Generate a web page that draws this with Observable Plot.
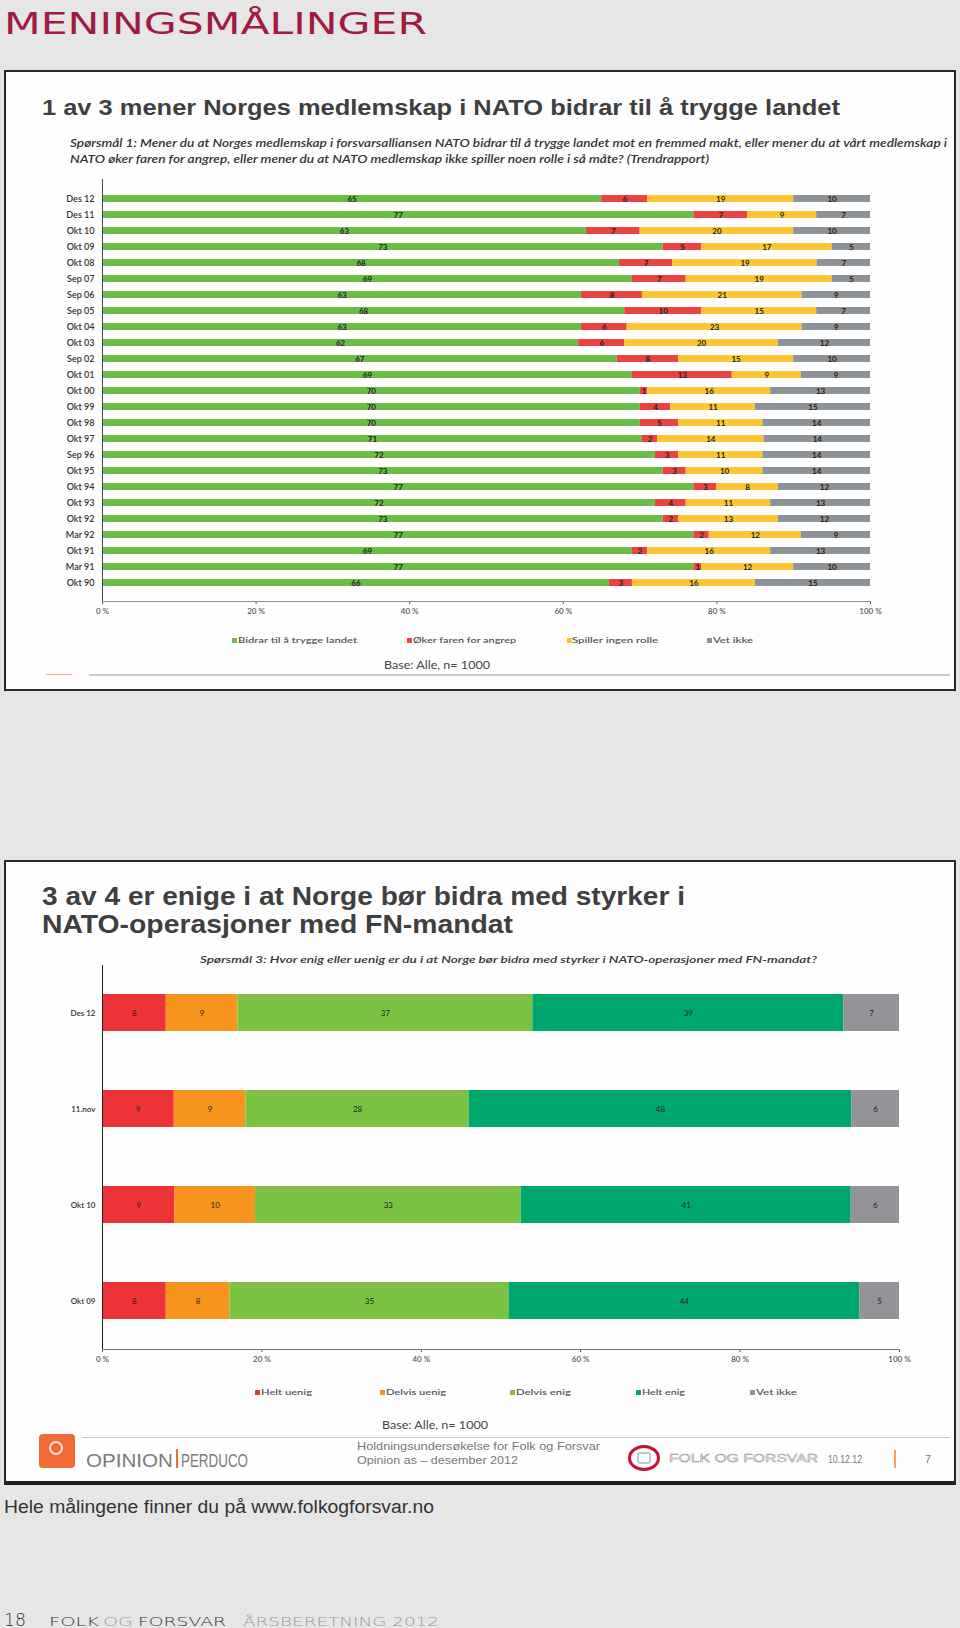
<!DOCTYPE html>
<html>
<head>
<meta charset="utf-8">
<script src="https://cdn.jsdelivr.net/npm/d3@7"></script>
<script src="https://cdn.jsdelivr.net/npm/@observablehq/plot@0.6"></script>
<style>
  html, body { margin: 0; padding: 0; }
  body { width: 960px; height: 1628px; background: #e6e6e6; overflow: hidden; }
  #page { position: relative; width: 960px; height: 1628px; }
  .abs { position: absolute; }
</style>
</head>
<body>
<div id="page"></div>
<script>
// ---------- DATA ----------
const dates1 = ["Des 12","Des 11","Okt 10","Okt 09","Okt 08","Sep 07","Sep 06","Sep 05","Okt 04","Okt 03","Sep 02","Okt 01","Okt 00","Okt 99","Okt 98","Okt 97","Sep 96","Okt 95","Okt 94","Okt 93","Okt 92","Mar 92","Okt 91","Mar 91","Okt 90"];
const bidrar  = [65,77,63,73,68,69,63,68,63,62,67,69,70,70,70,71,72,73,77,72,73,77,69,77,66];
const oker    = [6,7,7,5,7,7,8,10,6,6,8,13,1,4,5,2,3,3,3,4,2,2,2,1,3];
const spiller = [19,9,20,17,19,19,21,15,23,20,15,9,16,11,11,14,11,10,8,11,13,12,16,12,16];
const vetIkke1 = [10,7,10,5,7,5,9,7,9,12,10,9,13,15,14,14,14,14,12,13,12,9,13,10,15];
const cats1 = ["Bidrar til å trygge landet","Øker faren for angrep","Spiller ingen rolle","Vet ikke"];
const colors1 = ["#6cbd45","#ec4242","#fdc632","#8e9398"];

const dates2 = ["Des 12","11.nov","Okt 10","Okt 09"];
const heltUenig   = [8,9,9,8];
const delvisUenig = [9,9,10,8];
const delvisEnig  = [37,28,33,35];
const heltEnig    = [39,48,41,44];
const vetIkke2    = [7,6,6,5];
const cats2 = ["Helt uenig","Delvis uenig","Delvis enig","Helt enig","Vet ikke"];
const colors2 = ["#ec3338","#f7941d","#7cc242","#00a76d","#929497"];

const xTicks = [0, 0.2, 0.4, 0.6, 0.8, 1];
const pct = d => Math.round(d * 100) + " %";

// ---------- TABLES ----------
const series1 = [bidrar, oker, spiller, vetIkke1];
const rows1 = [];
dates1.forEach((d, i) => cats1.forEach((c, j) => rows1.push({date: d, cat: c, value: series1[j][i]})));
const series2 = [heltUenig, delvisUenig, delvisEnig, heltEnig, vetIkke2];
const rows2 = [];
dates2.forEach((d, i) => cats2.forEach((c, j) => rows2.push({date: d, cat: c, value: series2[j][i]})));

// ---------- HELPERS ----------
const page = document.getElementById("page");
const NS = "http://www.w3.org/2000/svg";
function fitText(x, baseline, w, size, text, o = {}) {
  const svg = document.createElementNS(NS, "svg");
  svg.setAttribute("width", w + 6);
  svg.setAttribute("height", size * 1.6);
  svg.style.position = "absolute";
  svg.style.left = x + "px";
  svg.style.top = (baseline - size * 1.2) + "px";
  svg.style.overflow = "visible";
  const t = document.createElementNS(NS, "text");
  t.setAttribute("x", 0);
  t.setAttribute("y", size * 1.2);
  t.setAttribute("textLength", w);
  t.setAttribute("lengthAdjust", "spacingAndGlyphs");
  t.setAttribute("font-size", size);
  t.setAttribute("font-family", o.family || "'Liberation Sans', Arial, sans-serif");
  t.setAttribute("font-weight", o.weight || "normal");
  if (o.italic) t.setAttribute("font-style", "italic");
  t.setAttribute("fill", o.color || "#333");
  if (o.stroke) { t.setAttribute("stroke", o.stroke); t.setAttribute("stroke-width", o.strokeWidth || 0.6); }
  t.textContent = text;
  svg.appendChild(t);
  page.appendChild(svg);
  return svg;
}
function box(x, y, w, h, css) {
  const d = document.createElement("div");
  d.className = "abs";
  d.style.left = x + "px"; d.style.top = y + "px";
  d.style.width = w + "px"; d.style.height = h + "px";
  Object.assign(d.style, css || {});
  page.appendChild(d);
  return d;
}
function place(node, x, y) {
  node.style.position = "absolute";
  node.style.left = x + "px";
  node.style.top = y + "px";
  page.appendChild(node);
}

// ---------- PAGE HEADER ----------
fitText(4, 34, 423, 30, "MENINGSMÅLINGER", {color: "#a01a42", family: "'DejaVu Sans', sans-serif", weight: "normal"});

// ---------- PANEL 1 ----------
box(4, 70, 952, 621, {background: "#fefefe", border: "2px solid #2a2a2a", boxSizing: "border-box"});
fitText(42, 115, 798, 22, "1 av 3 mener Norges medlemskap i NATO bidrar til å trygge landet", {weight: "bold", color: "#3f3f3f"});
fitText(70, 147, 877, 11, "Spørsmål 1: Mener du at Norges medlemskap i forsvarsalliansen NATO bidrar til å trygge landet mot en fremmed makt, eller mener du at vårt medlemskap i", {italic: true, weight: 600, color: "#333", family: "Lato, 'Open Sans', sans-serif"});
fitText(70, 163, 639, 11, "NATO øker faren for angrep, eller mener du at NATO medlemskap ikke spiller noen rolle i så måte? (Trendrapport)", {italic: true, weight: 600, color: "#333", family: "Lato, 'Open Sans', sans-serif"});

const chart1 = Plot.plot({
  width: 940, height: 457,
  marginLeft: 94, marginRight: 78, marginTop: 10, marginBottom: 25,
  x: {domain: [0, 1]},
  y: {domain: dates1, paddingInner: 0.58, paddingOuter: 0.3},
  color: {domain: cats1, range: colors1},
  style: {fontFamily: "Lato, 'Open Sans', sans-serif", background: "transparent", color: "#333"},
  marks: [
    Plot.barX(rows1, Plot.stackX({x: "value", y: "date", fill: "cat", offset: "normalize"})),
    Plot.text(rows1, Plot.stackX({x: "value", y: "date", z: "cat", offset: "normalize", text: d => String(d.value), fontSize: 8, fontWeight: "bold", fill: "#1e1e1e"})),
    Plot.axisX({ticks: xTicks, tickFormat: pct, tickSize: 3, tickPadding: 4, fontSize: 8, fontWeight: 600, color: "#555", label: null}),
    Plot.axisY({tickSize: 0, tickPadding: 8, fontSize: 9, fontWeight: 600, color: "#333", label: null}),
    Plot.frame({anchor: "left", stroke: "#444"}),
    Plot.frame({anchor: "bottom", stroke: "#8a8a8a"})
  ]
});
place(chart1, 8, 169);

// legend 1
const leg1 = [[232, 238, 119], [407, 413, 103], [567, 572, 86], [707, 713, 40]];
cats1.forEach((c, i) => {
  const [sx, tx, tw] = leg1[i];
  box(sx, 638, 5, 5, {background: colors1[i]});
  fitText(tx, 643, tw, 8, c, {color: "#555", weight: 600, family: "Lato, 'Open Sans', sans-serif"});
});
fitText(384, 669, 106, 11, "Base: Alle, n= 1000", {color: "#444", family: "Lato, 'Open Sans', sans-serif"});
box(89, 674, 861, 2, {background: "#c9cdd2"});
box(46, 674, 26, 1, {background: "#f4a67d"});

// ---------- PANEL 2 ----------
box(4, 860, 952, 625, {background: "#fefefe", border: "2px solid #2a2a2a", borderBottom: "4px solid #1e1e1e", boxSizing: "border-box"});
fitText(42, 905, 643, 25, "3 av 4 er enige i at Norge bør bidra med styrker i", {weight: "bold", color: "#3f3f3f"});
fitText(42, 933, 471, 25, "NATO-operasjoner med FN-mandat", {weight: "bold", color: "#3f3f3f"});
fitText(200, 963, 617, 10, "Spørsmål 3: Hvor enig eller uenig er du i at Norge bør bidra med styrker i NATO-operasjoner med FN-mandat?", {italic: true, weight: 600, color: "#333", family: "Lato, 'Open Sans', sans-serif"});

const chart2 = Plot.plot({
  width: 940, height: 419,
  marginLeft: 94, marginRight: 49, marginTop: 5, marginBottom: 30,
  x: {domain: [0, 1]},
  y: {domain: dates2, paddingInner: 0.61, paddingOuter: 0.305},
  color: {domain: cats2, range: colors2},
  style: {fontFamily: "Lato, 'Open Sans', sans-serif", background: "transparent", color: "#333"},
  marks: [
    Plot.barX(rows2, Plot.stackX({x: "value", y: "date", fill: "cat", offset: "normalize"})),
    Plot.text(rows2, Plot.stackX({x: "value", y: "date", z: "cat", offset: "normalize", text: d => String(d.value), fontSize: 8, fill: "#222"})),
    Plot.axisX({ticks: xTicks, tickFormat: pct, tickSize: 3, tickPadding: 4, fontSize: 8, fontWeight: 600, color: "#555", label: null}),
    Plot.axisY({tickSize: 0, tickPadding: 7, fontSize: 8, fontWeight: 600, color: "#333", label: null}),
    Plot.frame({anchor: "left", stroke: "#222"}),
    Plot.frame({anchor: "bottom", stroke: "#777"})
  ]
});
place(chart2, 8, 960);

// legend 2
const leg2 = [[255, 261, 51], [380, 386, 60], [510, 516, 55], [636, 642, 43], [750, 756, 41]];
cats2.forEach((c, i) => {
  const [sx, tx, tw] = leg2[i];
  box(sx, 1390, 5, 5, {background: colors2[i]});
  fitText(tx, 1395, tw, 8, c, {color: "#555", weight: 600, family: "Lato, 'Open Sans', sans-serif"});
});
fitText(382, 1429, 106, 11, "Base: Alle, n= 1000", {color: "#444", family: "Lato, 'Open Sans', sans-serif"});

// footer of panel 2
box(82, 1437, 868, 1, {background: "#c8ccd0"});
box(39, 1434, 36, 34, {background: "#f26a36", borderRadius: "4px"});
box(49, 1441, 14, 14, {border: "2px solid #fde3d6", borderRadius: "50%", boxSizing: "border-box"});
fitText(86, 1467, 87, 19, "OPINION", {color: "#7a7a7a"});
box(176, 1449, 2, 19, {background: "#f26a36"});
fitText(181, 1467, 67, 19, "PERDUCO", {color: "#7a7a7a"});
fitText(357, 1450, 243, 11, "Holdningsundersøkelse for Folk og Forsvar", {color: "#777"});
fitText(357, 1464, 161, 11, "Opinion as – desember 2012", {color: "#777"});
box(628, 1445, 32, 26, {border: "3px solid #c8102e", borderRadius: "50%", boxSizing: "border-box"});
box(637, 1452, 14, 12, {border: "2px solid #c8c8c8", borderRadius: "3px", boxSizing: "border-box"});
fitText(669, 1462, 149, 11, "FOLK OG FORSVAR", {color: "#ffffff", stroke: "#9a9a9a", strokeWidth: 0.5});
fitText(828, 1463, 34, 11, "10.12.12", {color: "#777"});
box(894, 1450, 2, 18, {background: "#f5a25f"});
fitText(925, 1463, 6, 11, "7", {color: "#777"});

// ---------- BELOW PANELS ----------
fitText(4, 1513, 430, 18, "Hele målingene finner du på www.folkogforsvar.no", {color: "#333"});
fitText(4, 1626, 22, 18, "18", {color: "#333", family: "'DejaVu Sans', sans-serif", weight: 200});
fitText(49, 1626, 50, 13, "FOLK", {color: "#333", family: "'DejaVu Sans', sans-serif", weight: 200});
fitText(103, 1626, 30, 13, "OG", {color: "#999", family: "'DejaVu Sans', sans-serif", weight: 200});
fitText(138, 1626, 88, 13, "FORSVAR", {color: "#333", family: "'DejaVu Sans', sans-serif", weight: 200});
fitText(243, 1626, 196, 13, "ÅRSBERETNING 2012", {color: "#999", family: "'DejaVu Sans', sans-serif", weight: 200});
</script>
</body>
</html>
